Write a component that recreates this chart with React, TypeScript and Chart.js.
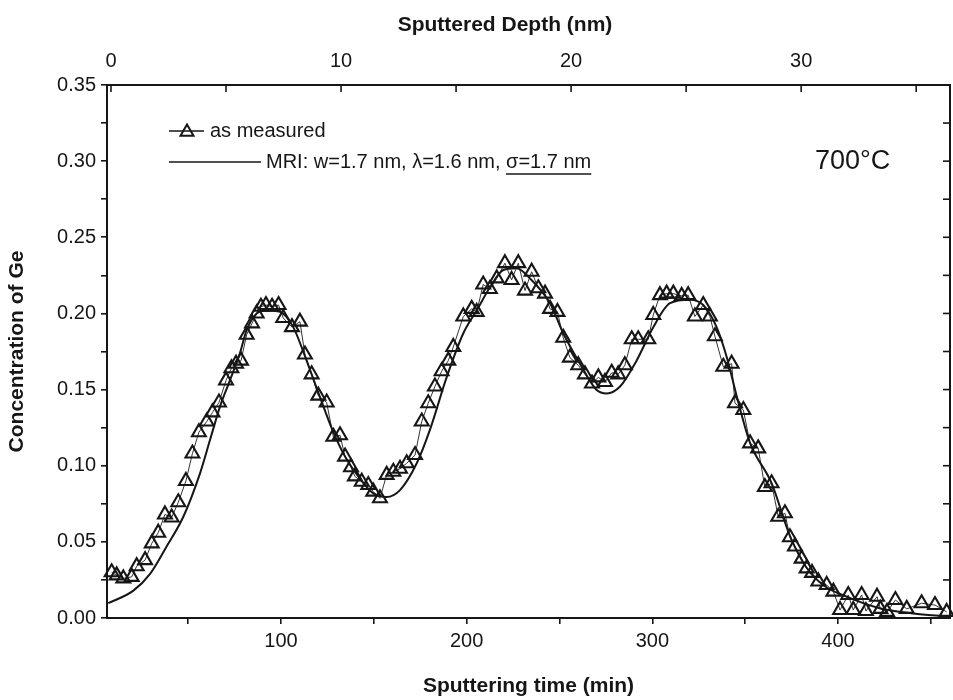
import React, { useEffect, useRef } from 'react';
import { Chart, registerables } from 'chart.js';

Chart.register(...registerables);

// ---- axis ranges ----
const timeMin = 6.3;
const timeMax = 460.3;
const depthOriginTime = 8.44; // min at which depth = 0 nm
const minutesPerNm = 12.39;
const concMin = 0;
const concMax = 0.35;

// ---- tick positions / labels ----
const timeTicks = [50, 100, 150, 200, 250, 300, 350, 400, 450];
const timeLabels = [100, 200, 300, 400];
const concTicks = [0, 0.025, 0.05, 0.075, 0.1, 0.125, 0.15, 0.175, 0.2, 0.225, 0.25, 0.275, 0.3, 0.325, 0.35];
const concLabels = [0, 0.05, 0.1, 0.15, 0.2, 0.25, 0.3, 0.35];
const depthTicks = [0, 5, 10, 15, 20, 25, 30, 35];
const depthLabels = [0, 10, 20, 30];

// ---- texts ----
const xTitle = 'Sputtering time (min)';
const x2Title = 'Sputtered Depth (nm)';
const yTitle = 'Concentration of Ge';
const measuredLabel = 'as measured';
const mriLabelPrefix = 'MRI: w=1.7 nm, \u03bb=1.6 nm, ';
const mriLabelUnderlined = '\u03c3=1.7 nm';
const temperatureLabel = '700\u00b0C';

// ---- series: as measured ----
const measuredTime = [
  8.8, 11.5, 15.1, 19.6, 22.3, 26.8, 30.4, 33.9, 37.5, 41.1,
  44.7, 48.8, 52.3, 55.8, 60.0, 63.1, 66.6, 70.4, 73.3, 75.8,
  78.5, 81.5, 84.4, 86.9, 89.2, 91.9, 95.2, 98.7, 101.2, 105.9,
  110.2, 112.9, 116.5, 120.1, 124.6, 128.2, 131.8, 134.5, 137.7, 139.8,
  143.5, 147.0, 149.7, 153.3, 156.9, 160.5, 164.1, 167.7, 172.2, 175.8,
  179.3, 182.9, 186.5, 190.1, 192.8, 198.2, 202.7, 205.4, 208.9, 212.5,
  216.2, 220.6, 224.2, 227.8, 231.4, 235.0, 238.6, 242.2, 244.9, 248.9,
  252.0, 255.6, 260.1, 263.7, 267.5, 270.9, 274.5, 278.1, 281.6, 285.2,
  288.9, 292.4, 297.8, 300.5, 304.1, 307.7, 311.3, 315.8, 319.3, 322.9,
  327.4, 331.0, 333.7, 338.2, 342.7, 344.5, 349.0, 352.6, 357.0, 360.6,
  364.2, 367.8, 371.4, 374.1, 376.8, 380.4, 383.1, 386.0, 389.4, 393.9,
  397.5, 401.1, 405.5, 408.2, 412.7, 415.0, 421.0, 422.8, 426.4, 430.9,
  437.0, 445.0, 452.2, 458.5,
];
const measuredConc = [
  0.030, 0.028, 0.026, 0.027, 0.034, 0.038, 0.049, 0.056, 0.068, 0.066,
  0.076, 0.090, 0.108, 0.122, 0.129, 0.135, 0.1415, 0.156, 0.164, 0.167,
  0.169, 0.186, 0.1935, 0.200, 0.2044, 0.2055, 0.2044, 0.2055, 0.197, 0.191,
  0.1946, 0.173, 0.160, 0.146, 0.1415, 0.119, 0.120, 0.106, 0.099, 0.093,
  0.0895, 0.0873, 0.083, 0.0786, 0.094, 0.096, 0.098, 0.1016, 0.107, 0.129,
  0.141, 0.152, 0.162, 0.169, 0.178, 0.198, 0.203, 0.201, 0.219, 0.216,
  0.223, 0.233, 0.222, 0.233, 0.215, 0.2274, 0.2165, 0.213, 0.203, 0.201,
  0.184, 0.171, 0.166, 0.160, 0.154, 0.158, 0.155, 0.161, 0.160, 0.166,
  0.183, 0.183, 0.183, 0.199, 0.212, 0.213, 0.213, 0.2115, 0.212, 0.198,
  0.2055, 0.198, 0.185, 0.165, 0.167, 0.141, 0.1366, 0.1147, 0.1114, 0.086,
  0.0885, 0.0665, 0.0688, 0.053, 0.047, 0.039, 0.0326, 0.0296, 0.024, 0.0217,
  0.0173, 0.0053, 0.0151, 0.0053, 0.0151, 0.0046, 0.014, 0.006, 0.004, 0.0118,
  0.006, 0.0097, 0.0085, 0.004,
];

// ---- series: MRI model ----
const mriTime = [
  7.0, 20.5, 29.5, 38.4, 47.4, 56.4, 61.8, 67.2, 72.5, 77.9,
  81.5, 86.9, 92.3, 99.5, 106.6, 112.9, 120.1, 128.2, 134.5, 143.5,
  149.6, 156.9, 164.1, 173.1, 180.2, 189.2, 198.2, 205.4, 212.5, 219.7,
  226.9, 234.1, 244.9, 252.0, 261.0, 270.0, 275.4, 282.6, 291.5, 300.5,
  309.5, 320.2, 327.4, 334.6, 340.0, 346.0, 352.6, 364.2, 374.1, 383.1,
  392.0, 404.6, 422.5, 440.5, 458.5,
];
const mriConc = [
  0.0097, 0.018, 0.029, 0.047, 0.0665, 0.095, 0.117, 0.139, 0.156, 0.174,
  0.189, 0.200, 0.202, 0.201, 0.191, 0.172, 0.148, 0.122, 0.106, 0.090,
  0.082, 0.0795, 0.084, 0.1016, 0.1235, 0.158, 0.187, 0.202, 0.217, 0.2285,
  0.2297, 0.223, 0.2067, 0.187, 0.167, 0.1497, 0.1475, 0.152, 0.169, 0.191,
  0.2067, 0.209, 0.2055, 0.191, 0.1716, 0.143, 0.115, 0.0886, 0.054, 0.033,
  0.0217, 0.014, 0.0064, 0.003, 0.001,
];

const INK = '#161616';
const FONT = '"Liberation Sans", Arial, Helvetica, sans-serif';

const near = (list: number[], v: number) => list.some((l) => Math.abs(l - v) < 1e-6);

function drawTriangle(ctx: CanvasRenderingContext2D, x: number, y: number, r: number) {
  ctx.beginPath();
  ctx.moveTo(x, y - r);
  ctx.lineTo(x + r * Math.sin((2 * Math.PI) / 3), y - r * Math.cos((2 * Math.PI) / 3));
  ctx.lineTo(x + r * Math.sin((4 * Math.PI) / 3), y - r * Math.cos((4 * Math.PI) / 3));
  ctx.closePath();
  ctx.stroke();
}

const decorPlugin = {
  id: 'decor',
  afterDraw(chart: any) {
    const { ctx, chartArea, scales } = chart;
    const { left, right, top } = chartArea;
    ctx.save();
    ctx.strokeStyle = INK;
    ctx.fillStyle = INK;
    ctx.lineWidth = 1.6;
    // inward ticks on top axis
    depthTicks.forEach((v) => {
      const x = scales.x2.getPixelForValue(v);
      if (x < left - 0.5 || x > right + 0.5) return;
      ctx.beginPath();
      ctx.moveTo(x, top);
      ctx.lineTo(x, top + 7);
      ctx.stroke();
    });
    // inward ticks on right axis
    concTicks.forEach((v) => {
      const y = scales.y2.getPixelForValue(v);
      ctx.beginPath();
      ctx.moveTo(right, y);
      ctx.lineTo(right - 7, y);
      ctx.stroke();
    });

    // top axis title
    ctx.font = `bold 21px ${FONT}`;
    ctx.textAlign = 'center';
    ctx.textBaseline = 'middle';
    ctx.fillText(x2Title, 505, 25);

    // legend
    const lx = left + 62;
    const row1 = top + 46;
    const row2 = top + 77;
    ctx.lineWidth = 1.6;
    ctx.beginPath();
    ctx.moveTo(lx, row1);
    ctx.lineTo(lx + 35, row1);
    ctx.stroke();
    ctx.lineWidth = 2;
    drawTriangle(ctx, lx + 18, row1 + 1, 7.5);
    ctx.font = `20px ${FONT}`;
    ctx.textBaseline = 'middle';
    ctx.textAlign = 'left';
    ctx.fillText(measuredLabel, lx + 41, row1);

    ctx.lineWidth = 1.6;
    ctx.beginPath();
    ctx.moveTo(lx, row2);
    ctx.lineTo(lx + 92, row2);
    ctx.stroke();
    const tx = lx + 97;
    ctx.fillText(mriLabelPrefix + mriLabelUnderlined, tx, row2);
    const pw = ctx.measureText(mriLabelPrefix).width;
    const uw = ctx.measureText(mriLabelUnderlined).width;
    ctx.lineWidth = 1.5;
    ctx.beginPath();
    ctx.moveTo(tx + pw, row2 + 12);
    ctx.lineTo(tx + pw + uw, row2 + 12);
    ctx.stroke();

    // temperature
    ctx.font = `27px ${FONT}`;
    ctx.fillText(temperatureLabel, 815, row2);
    ctx.restore();
  },
};

export default function App() {
  const canvasRef = useRef<HTMLCanvasElement | null>(null);

  useEffect(() => {
    if (!canvasRef.current) return;
    const tickFont = { family: FONT, size: 20 };
    const titleFont = { family: FONT, size: 21, weight: 'bold' as const };

    const chart = new Chart(canvasRef.current, {
      type: 'line',
      data: {
        datasets: [
          {
            label: 'MRI',
            data: mriTime.map((t, i) => ({ x: t, y: mriConc[i] })),
            borderColor: INK,
            borderWidth: 2,
            pointRadius: 0,
            cubicInterpolationMode: 'monotone',
            fill: false,
            xAxisID: 'x',
            yAxisID: 'y',
          },
          {
            label: 'as measured',
            data: measuredTime.map((t, i) => ({ x: t, y: measuredConc[i] })),
            borderColor: '#333',
            borderWidth: 1,
            pointStyle: 'triangle',
            pointRadius: 8,
            pointBorderWidth: 2.1,
            pointBorderColor: INK,
            pointBackgroundColor: 'rgba(0,0,0,0)',
            fill: false,
            clip: false as any,
            xAxisID: 'x',
            yAxisID: 'y',
          },
        ],
      },
      options: {
        animation: false,
        responsive: false,
        devicePixelRatio: 1,
        layout: { padding: 0, autoPadding: false },
        plugins: { legend: { display: false }, tooltip: { enabled: false } },
        scales: {
          x: {
            type: 'linear',
            position: 'bottom',
            min: timeMin,
            max: timeMax,
            afterBuildTicks: (s: any) => {
              s.ticks = timeTicks.map((v) => ({ value: v }));
            },
            afterFit: (s: any) => {
              s.height = 82;
            },
            ticks: {
              autoSkip: false,
              maxRotation: 0,
              padding: 5,
              color: INK,
              font: tickFont,
              callback: (v: any) => (near(timeLabels, Number(v)) ? String(v) : ''),
            },
            grid: { drawOnChartArea: false, drawTicks: true, tickLength: 6, color: INK, lineWidth: 1.6 },
            border: { display: true, color: INK, width: 2 },
            title: { display: true, text: xTitle, color: INK, font: titleFont, padding: { top: 0, bottom: 1 } },
          },
          x2: {
            type: 'linear',
            position: 'top',
            min: (timeMin - depthOriginTime) / minutesPerNm,
            max: (timeMax - depthOriginTime) / minutesPerNm,
            afterBuildTicks: (s: any) => {
              s.ticks = depthTicks.map((v) => ({ value: v }));
            },
            afterFit: (s: any) => {
              s.height = 85;
            },
            ticks: {
              autoSkip: false,
              maxRotation: 0,
              padding: 12,
              color: INK,
              font: tickFont,
              callback: (v: any) => (near(depthLabels, Number(v)) ? String(v) : ''),
            },
            grid: { display: false, drawOnChartArea: false, drawTicks: false },
            border: { display: true, color: INK, width: 2 },
            title: { display: false, text: x2Title },
          },
          y: {
            type: 'linear',
            position: 'left',
            min: concMin,
            max: concMax,
            afterBuildTicks: (s: any) => {
              s.ticks = concTicks.map((v) => ({ value: v }));
            },
            afterFit: (s: any) => {
              s.width = 107;
            },
            ticks: {
              autoSkip: false,
              padding: 5,
              color: INK,
              font: tickFont,
              callback: (v: any) => (near(concLabels, Number(v)) ? Number(v).toFixed(2) : ''),
            },
            grid: { drawOnChartArea: false, drawTicks: true, tickLength: 6, color: INK, lineWidth: 1.6 },
            border: { display: true, color: INK, width: 2 },
            title: { display: true, text: yTitle, color: INK, font: titleFont, padding: { top: 5, bottom: 0 } },
          },
          y2: {
            type: 'linear',
            position: 'right',
            min: concMin,
            max: concMax,
            afterFit: (s: any) => {
              s.width = 3;
            },
            ticks: { display: false },
            grid: { display: false, drawOnChartArea: false, drawTicks: false },
            border: { display: true, color: INK, width: 2 },
          },
        },
      },
      plugins: [decorPlugin],
    });
    return () => chart.destroy();
  }, []);

  return (
    <canvas
      ref={canvasRef}
      width={953}
      height={700}
      style={{ position: 'absolute', left: 0, top: 0, width: 953, height: 700, display: 'block', background: '#fff' }}
    />
  );
}
